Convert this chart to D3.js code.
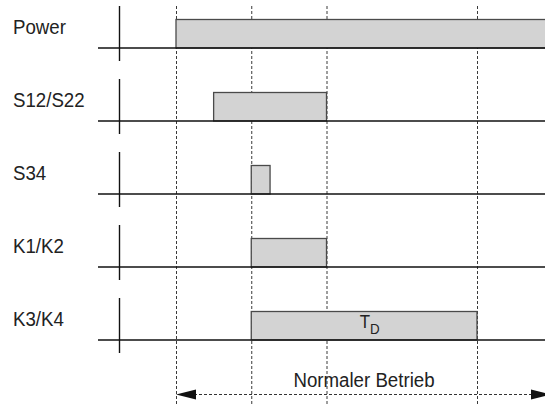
<!DOCTYPE html>
<html>
<head>
<meta charset="utf-8">
<script src="https://cdn.jsdelivr.net/npm/d3@7"></script>
<style>
  html, body { margin: 0; padding: 0; background: #fff; }
  svg text { font-family: "Liberation Sans", Arial, sans-serif; fill: #222; }
</style>
</head>
<body>
<div id="chart"></div>
<script>
// signal rows and their high periods (arbitrary time units)
var signals = ["Power", "S12/S22", "S34", "K1/K2", "K3/K4"];
var pulseStart = [0, 1, 2, 2, 2];
var pulseEnd = [10, 4, 2.5, 4, 8];
var markers = [0, 2, 4, 8];
var delayLabel = {row: "K3/K4", t: 5.15, text: "T", sub: "D"};
var phase = {from: 0, to: 10, text: "Normaler Betrieb"};

var w = 545, h = 405;
var squeeze = 0.89; // condensed look of the original type

var svg = d3.select("#chart")
    .append("svg")
    .attr("width", w)
    .attr("height", h);

var x = d3.scaleLinear()
    .domain([0, 8])
    .range([176, 477]);

var y = d3.scalePoint()
    .domain(signals)
    .range([48, 340]);

var barH = 28.5;

var rows = signals.map(function(s, i) {
    return {name: s, t0: pulseStart[i], t1: pulseEnd[i]};
});

function narrowText(parent, px, py) {
    return parent.append("text")
        .attr("transform", "translate(" + px + "," + py + ") scale(" + squeeze + ",1)");
}

// dashed time markers
svg.append("g")
    .selectAll("line")
    .data(markers)
    .enter()
    .append("line")
    .attr("x1", d => x(d) + 0.5)
    .attr("x2", d => x(d) + 0.5)
    .attr("y1", 6)
    .attr("y2", h)
    .attr("stroke", "#3a3a3a")
    .attr("stroke-width", 1)
    .attr("stroke-dasharray", "3,2");

var row_g = svg.append("g")
    .selectAll("g")
    .data(rows)
    .enter()
    .append("g");

// pulses
row_g.append("rect")
    .attr("x", d => x(d.t0))
    .attr("y", d => y(d.name) - barH)
    .attr("width", d => Math.min(x(d.t1), w + 5) - x(d.t0))
    .attr("height", barH)
    .attr("fill", "#d3d3d3")
    .attr("stroke", "#4a4a4a")
    .attr("stroke-width", 1.3);

// baselines
row_g.append("line")
    .attr("x1", 98)
    .attr("x2", w)
    .attr("y1", d => y(d.name))
    .attr("y2", d => y(d.name))
    .attr("stroke", "#111")
    .attr("stroke-width", 1.6);

// small vertical axis per row
row_g.append("line")
    .attr("x1", 119.5)
    .attr("x2", 119.5)
    .attr("y1", d => y(d.name) - 42)
    .attr("y2", d => y(d.name) + 13)
    .attr("stroke", "#111")
    .attr("stroke-width", 1.4);

row_g.each(function(d) {
    narrowText(d3.select(this), 13, y(d.name) - 14)
        .attr("font-size", 21)
        .text(d.name);
});

// T_D label
var td = narrowText(svg, x(delayLabel.t), y(delayLabel.row) - 12)
    .attr("text-anchor", "middle")
    .attr("font-size", 19);
td.append("tspan").text(delayLabel.text);
td.append("tspan")
    .attr("dy", 6)
    .attr("font-size", 15)
    .text(delayLabel.sub);

// phase arrow
var ay = 394.5;
svg.append("line")
    .attr("x1", x(phase.from) + 18)
    .attr("x2", x(phase.to) - 18)
    .attr("y1", ay)
    .attr("y2", ay)
    .attr("stroke", "#333")
    .attr("stroke-width", 1.2)
    .attr("stroke-dasharray", "3,2");

svg.append("path")
    .attr("d", d3.line()([[x(phase.from), ay], [x(phase.from) + 20, ay - 5], [x(phase.from) + 20, ay + 5]]) + "Z")
    .attr("fill", "#111");

svg.append("path")
    .attr("d", d3.line()([[w + 6, ay], [w - 14, ay - 5], [w - 14, ay + 5]]) + "Z")
    .attr("fill", "#111");

narrowText(svg, 364, 387)
    .attr("text-anchor", "middle")
    .attr("font-size", 21)
    .text(phase.text);
</script>
</body>
</html>
